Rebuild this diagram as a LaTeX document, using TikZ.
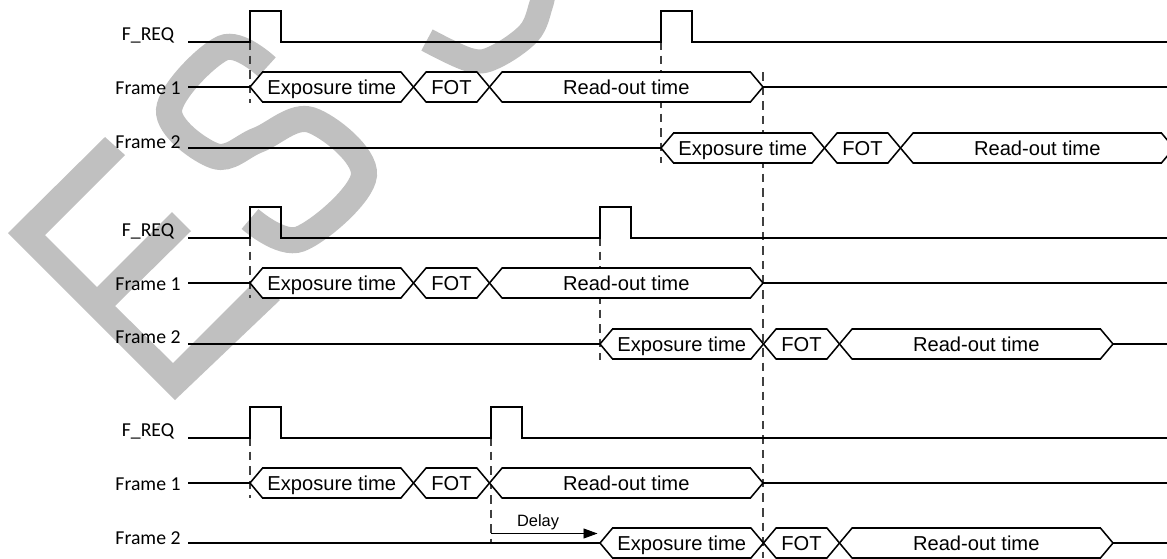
\documentclass[tikz,border=0pt]{standalone}
\usepackage{xcolor}
\usepackage{fontspec}
\usepackage{tikz}
\usetikzlibrary{positioning,shapes.symbols,arrows.meta}
\setmainfont{Liberation Sans}
\newfontfamily\labelfont{Carlito}
\definecolor{markgray}{HTML}{C0C0C0}
\definecolor{dashgray}{HTML}{404040}

\begin{document}
\begin{tikzpicture}[x=0.75pt, y=-0.75pt,
    wave/.style={line width=1.15pt, black},
    guide/.style={line width=0.8pt, dashgray, dash pattern=on 6.4pt off 4.5pt},
    siglabel/.style={font=\labelfont\fontsize{14.8}{17}\selectfont, inner sep=0pt},
    phase/.style={draw, wave, fill=white, signal, signal to=east and west, signal pointer angle=100,
        inner sep=0pt, outer sep=0pt, minimum height=22.5pt, minimum width=#1*0.75pt,
        text height=13pt, text depth=2.4pt, font=\fontsize{15.1}{18}\selectfont}]
    \useasboundingbox (0,0) rectangle (1167,558);
    \clip (0,0) rectangle (1167,558);

    % Watermark
    \fill[markgray] (8,233) -- (105,137) -- (125,155) -- (45,235) -- (97,287) -- (172,212) -- (191,231)
        -- (115,306) -- (173,363) -- (255,281) -- (280,300) -- (175,400) -- cycle;
    \draw[markgray, line width=19.5pt] plot[smooth, tension=0.6] coordinates {(267,67) (223,48) (169,110) (215,156)
        (258,140) (311,120) (364,175) (300,239) (250,219)};
    \draw[markgray, line width=18pt] plot[smooth, tension=0.6] coordinates {(427,40) (470,60) (495,57) (529,33) (541,5) (545,-15)};

    % Guides
    \draw[guide] (250,41) -- (250,103);
    \draw[guide] (661,41) -- (661,163);
    \draw[guide] (763,72) -- (763,558);
    \draw[guide] (250,237) -- (250,298);
    \draw[guide] (600,237) -- (600,360);
    \draw[guide] (250,437) -- (250,498);
    \draw[guide] (491,437) -- (491,543);

    % First case
    \node[siglabel] (reqA) at (148,35) {F\_REQ};
    \node[siglabel] (oneA) at (148,88) {Frame 1};
    \node[siglabel] (twoA) at (148,142) {Frame 2};
    \draw[wave] (188,42) -- (250,42) -- (250,11) -- (281,11) -- (281,42) -- (661,42) -- (661,11) -- (692,11) -- (692,42) -- (1167,42);
    \node[phase=163.5, anchor=west] (expA) at (250,87) {Exposure time};
    \node[phase=76, right=0pt of expA] (fotA) {FOT};
    \node[phase=273.5, right=0pt of fotA] (readA) {Read-out time};
    \coordinate (startA) at (188,87);
    \coordinate (endA) at (1167,87);
    \draw[wave] (startA) -- (expA.west);
    \draw[wave] (readA.east) -- (endA);
    \node[phase=163.5, anchor=west] (expB) at (661,148) {Exposure time};
    \node[phase=76, right=0pt of expB] (fotB) {FOT};
    \node[phase=273.5, right=0pt of fotB] (readB) {Read-out time};
    \coordinate (startB) at (188,148);
    \draw[wave] (startB) -- (expB.west);

    % Second case
    \node[siglabel] (reqC) at (148,231) {F\_REQ};
    \node[siglabel] (oneC) at (148,284) {Frame 1};
    \node[siglabel] (twoC) at (148,337.5) {Frame 2};
    \draw[wave] (188,238) -- (250,238) -- (250,207) -- (281,207) -- (281,238) -- (600,238) -- (600,207) -- (631,207) -- (631,238) -- (1167,238);
    \node[phase=163.5, anchor=west] (expC) at (250,283) {Exposure time};
    \node[phase=76, right=0pt of expC] (fotC) {FOT};
    \node[phase=273.5, right=0pt of fotC] (readC) {Read-out time};
    \coordinate (startC) at (188,283);
    \coordinate (endC) at (1167,283);
    \draw[wave] (startC) -- (expC.west);
    \draw[wave] (readC.east) -- (endC);
    \node[phase=163.5, anchor=west] (expD) at (600,344) {Exposure time};
    \node[phase=76, right=0pt of expD] (fotD) {FOT};
    \node[phase=273.5, right=0pt of fotD] (readD) {Read-out time};
    \coordinate (startD) at (188,344);
    \coordinate (endD) at (1167,344);
    \draw[wave] (startD) -- (expD.west);
    \draw[wave] (readD.east) -- (endD);

    % Third case
    \node[siglabel] (reqE) at (148,431.5) {F\_REQ};
    \node[siglabel] (oneE) at (148,484) {Frame 1};
    \node[siglabel] (twoE) at (148,538) {Frame 2};
    \draw[wave] (188,438) -- (250,438) -- (250,407) -- (281,407) -- (281,438) -- (491,438) -- (491,407) -- (522,407) -- (522,438) -- (1167,438);
    \node[phase=163.5, anchor=west] (expE) at (250,483) {Exposure time};
    \node[phase=76, right=0pt of expE] (fotE) {FOT};
    \node[phase=273.5, right=0pt of fotE] (readE) {Read-out time};
    \coordinate (startE) at (188,483);
    \coordinate (endE) at (1167,483);
    \draw[wave] (startE) -- (expE.west);
    \draw[wave] (readE.east) -- (endE);
    \node[phase=163.5, anchor=west] (expF) at (600,543) {Exposure time};
    \node[phase=76, right=0pt of expF] (fotF) {FOT};
    \node[phase=273.5, right=0pt of fotF] (readF) {Read-out time};
    \coordinate (startF) at (188,543);
    \coordinate (endF) at (1167,543);
    \draw[wave] (startF) -- (expF.west);
    \draw[wave] (readF.east) -- (endF);

    % Delay
    \coordinate (delayA) at (491,533.5);
    \coordinate (delayB) at (597.5,533.5);
    \draw[-{Triangle[length=10.5pt,width=7.5pt]}, line width=0.7pt] (delayA) -- (delayB);
    \node[font=\fontsize{12.3}{14}\selectfont, inner sep=0pt] (delay) at (538,522.5) {Delay};
\end{tikzpicture}
\end{document}
